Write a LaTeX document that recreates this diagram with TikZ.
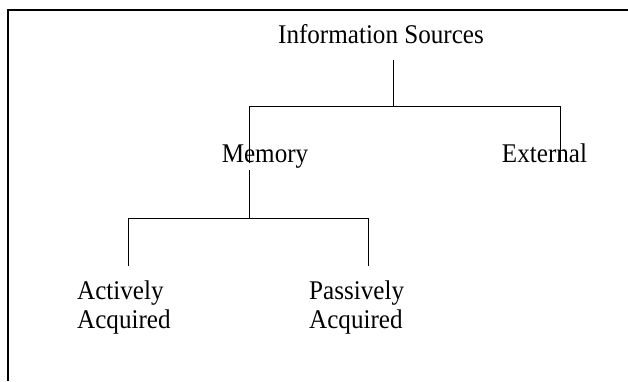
\documentclass[tikz,border=0pt]{standalone}
\usepackage{fontspec}
\setmainfont{Liberation Serif}[FakeStretch=0.93]
\usetikzlibrary{calc}

\begin{document}
\begin{tikzpicture}[x=1pt,y=-1pt]
\tikzset{Label/.style ={inner sep=0, font=\fontsize{27}{29}\selectfont}}
\tikzset{Tree/.style ={line width=1pt}}
\useasboundingbox (0,0) rectangle (628,381);
\draw[line width=1.3pt] (8,381) -- (8,10) -- (628,10);
% labels
\node[Label, anchor=base] (info) at (381,43) {Information Sources};
\node[Label, anchor=base] (mem) at (265,162) {Memory};
\node[Label, anchor=base] (ext) at (544.5,162) {External};
\node[Label, anchor=north west, align=left] (act) at (77,281) {Actively\\Acquired};
\node[Label, anchor=north west, align=left] (pas) at (309,281) {Passively\\Acquired};
% branch points
\coordinate (istem) at (393,60);
\coordinate (bar1) at (393,106);
\coordinate (memend) at (249,163);
\coordinate (extend) at (560,162);
\coordinate (mstem) at (249,170);
\coordinate (bar2) at (249,218);
\coordinate (actend) at (128,266);
\coordinate (pasend) at (368,266);
\draw[Tree] (istem) -- (bar1);
\draw[Tree] (memend) -- (memend |- bar1) -- (extend |- bar1) -- (extend);
\draw[Tree] (mstem) -- (bar2);
\draw[Tree] (actend) -- (actend |- bar2) -- (pasend |- bar2) -- (pasend);
\end{tikzpicture}
\end{document}
